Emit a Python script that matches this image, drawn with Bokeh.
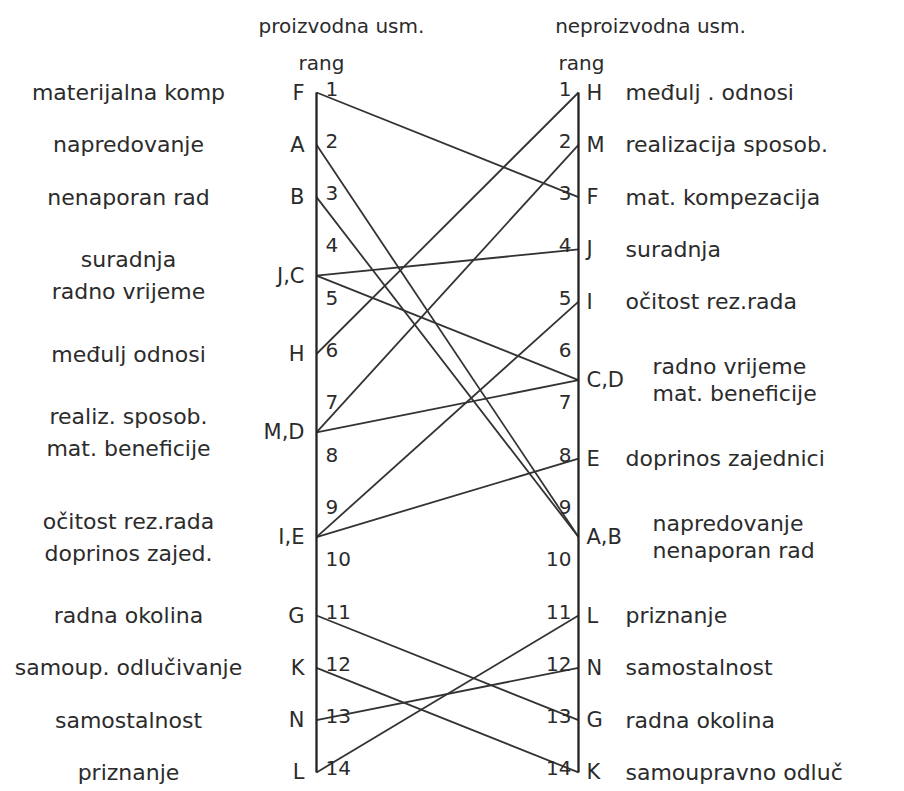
from bokeh.plotting import figure
from bokeh.models import Range1d, ColumnDataSource
from bokeh.core.properties import value
from bokeh.embed import file_html
from bokeh.resources import INLINE

# ---------------- data ----------------
codes = ["A", "B", "C", "D", "E", "F", "G", "H", "I", "J", "K", "L", "M", "N"]
rank_left = [2, 3, 4.5, 7.5, 9.5, 1, 11, 6, 9.5, 4.5, 12, 14, 7.5, 13]
rank_right = [9.5, 9.5, 6.5, 6.5, 8, 3, 13, 1, 5, 4, 14, 11, 2, 12]
names_left = ["napredovanje", "nenaporan rad", "radno vrijeme", "mat. beneficije",
              "doprinos zajed.", "materijalna komp", "radna okolina", "međulj odnosi",
              "očitost rez.rada", "suradnja", "samoup. odlučivanje", "priznanje",
              "realiz. sposob.", "samostalnost"]
names_right = ["napredovanje", "nenaporan rad", "radno vrijeme", "mat. beneficije",
               "doprinos zajednici", "mat. kompezacija", "radna okolina", "međulj . odnosi",
               "očitost rez.rada", "suradnja", "samoupravno odluč", "priznanje",
               "realizacija sposob.", "samostalnost"]
order_left = ["F", "A", "B", "J", "C", "H", "M", "D", "I", "E", "G", "K", "N", "L"]
order_right = ["H", "M", "F", "J", "I", "C", "D", "E", "A", "B", "L", "N", "G", "K"]
rank_ticks = list(range(1, 15))
title_left = "proizvodna usm."
title_right = "neproizvodna usm."
rank_title = "rang"

# ---------------- layout ----------------
W, H = 900, 788
AX_L, UNIT_X = 316, 262          # px of left axis, px between axes
Y1, UNIT_Y = 92, 52.3            # px of rank 1, px per rank

FONT = value("DejaVu Sans")
INK = "#2b2b2b"

p = figure(width=W, height=H, output_backend="svg", toolbar_location=None,
           x_range=Range1d(-AX_L / UNIT_X, (W - AX_L) / UNIT_X),
           y_range=Range1d(1 + (H - Y1) / UNIT_Y, 1 - Y1 / UNIT_Y),
           min_border=0, outline_line_color=None)
p.axis.visible = False
p.grid.visible = False
p.background_fill_color = "white"
p.border_fill_color = "white"


def groups(order, ranks):
    out = []
    for c in order:
        r = ranks[codes.index(c)]
        if out and out[-1][0] == r:
            out[-1][1].append(c)
        else:
            out.append((r, [c]))
    return out


# connecting lines
p.segment(x0=[0] * len(codes), y0=rank_left, x1=[1] * len(codes), y1=rank_right,
          line_color="#333333", line_width=1.8)

# the two vertical rank axes
p.segment(x0=[0, 1], y0=[min(rank_ticks)] * 2, x1=[0, 1], y1=[max(rank_ticks)] * 2,
          line_color="#222222", line_width=2.3)

# rank numbers
p.text(x=[0] * len(rank_ticks), y=rank_ticks, text=[str(t) for t in rank_ticks],
       x_offset=9, y_offset=-4, text_align="left", text_baseline="middle",
       text_font=FONT, text_font_size="20px", text_color=INK)
p.text(x=[1] * len(rank_ticks), y=rank_ticks, text=[str(t) for t in rank_ticks],
       x_offset=-7, y_offset=-4, text_align="right", text_baseline="middle",
       text_font=FONT, text_font_size="20px", text_color=INK)


def side(order, ranks, names, x, letter_dx, name_dx, name_dx_group, align_letter,
         align_name, spacing):
    lx, ly, lt = [], [], []
    nx, ny, nt, noff, nxo = [], [], [], [], []
    for r, g in groups(order, ranks):
        lx.append(x)
        ly.append(r)
        lt.append(",".join(g))
        n = len(g)
        for i, c in enumerate(g):
            nx.append(x)
            ny.append(r)
            nt.append(names[codes.index(c)])
            noff.append((i - (n - 1) / 2) * spacing)
            nxo.append(name_dx if n == 1 else name_dx_group)
    p.text(x=lx, y=ly, text=lt, x_offset=letter_dx, text_align=align_letter,
           text_baseline="middle", text_font=FONT, text_font_size="21px", text_color=INK)
    src = ColumnDataSource(dict(x=nx, y=ny, t=nt, yo=noff, xo=nxo))
    p.text(x="x", y="y", text="t", x_offset="xo", y_offset="yo", source=src,
           text_align=align_name, text_baseline="middle", text_font=FONT,
           text_font_size="22px", text_color=INK)


side(order_left, rank_left, names_left, 0, -12, -188, -188, "right", "center", 32)
side(order_right, rank_right, names_right, 1, 8, 47, 74, "left", "left", 27)

# headers
p.text(x=[0, 1], y=[1, 1], text=[title_left, title_right], x_offset=[25, 72],
       y_offset=[-67, -67], text_align="center", text_baseline="middle",
       text_font=FONT, text_font_size="20px", text_color=INK)
p.text(x=[0, 1], y=[1, 1], text=[rank_title, rank_title], x_offset=[5, 3],
       y_offset=[-30, -30], text_align="center", text_baseline="middle",
       text_font=FONT, text_font_size="20px", text_color=INK)

open("out.html", "w").write(file_html(p, INLINE))
